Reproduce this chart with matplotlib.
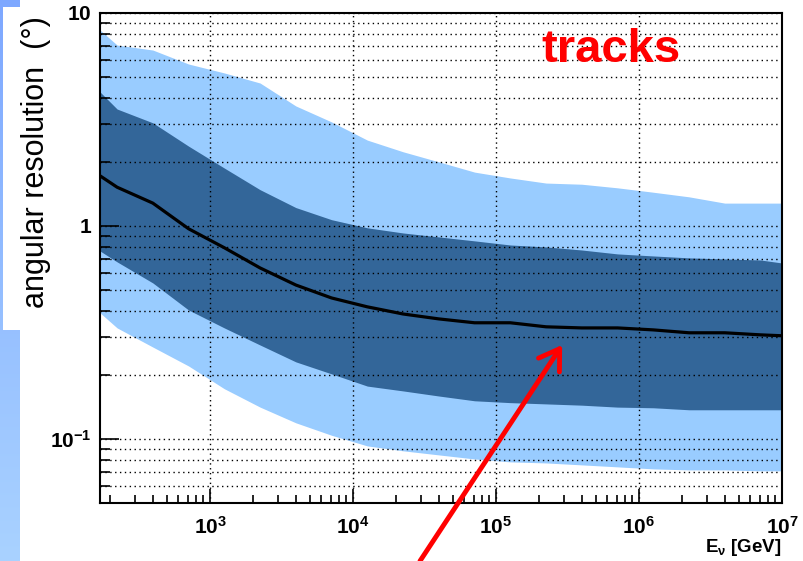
import numpy as np
import matplotlib
matplotlib.use('Agg')
import matplotlib.pyplot as plt
from matplotlib.patches import Rectangle
from matplotlib.ticker import LogLocator, NullFormatter

plt.rcParams['font.family'] = ['Liberation Sans', 'DejaVu Sans']
plt.rcParams['mathtext.fontset'] = 'custom'
plt.rcParams['mathtext.rm'] = 'Liberation Sans:bold'
plt.rcParams['mathtext.bf'] = 'Liberation Sans:bold'
plt.rcParams['mathtext.default'] = 'bf'

# datos (energia en GeV, resolucion en grados)
energia = [170, 224, 398, 708, 1259, 2239, 3981, 7079, 12589, 22387, 39811,
           70795, 125893, 223872, 398107, 707946, 1258925, 2238721, 3981072,
           7079458, 10000000]
mediana = [1.72, 1.52, 1.28, 0.97, 0.79, 0.635, 0.528, 0.459, 0.417, 0.386,
           0.366, 0.351, 0.351, 0.336, 0.332, 0.332, 0.325, 0.315, 0.315,
           0.308, 0.305]
banda68_sup = [4.26, 3.54, 3.05, 2.37, 1.87, 1.48, 1.22, 1.07, 0.98, 0.927,
               0.888, 0.851, 0.814, 0.797, 0.771, 0.739, 0.723, 0.708, 0.700,
               0.692, 0.670]
banda68_inf = [0.763, 0.678, 0.540, 0.403, 0.332, 0.276, 0.230, 0.202, 0.177,
               0.168, 0.159, 0.151, 0.148, 0.146, 0.144, 0.141, 0.140, 0.137,
               0.137, 0.137, 0.137]
banda95_sup = [8.32, 7.07, 6.70, 5.76, 5.23, 4.69, 3.66, 3.08, 2.53, 2.23,
               2.00, 1.79, 1.68, 1.59, 1.57, 1.51, 1.44, 1.37, 1.28, 1.28, 1.28]
banda95_inf = [0.391, 0.332, 0.270, 0.220, 0.172, 0.141, 0.119, 0.104, 0.0927,
               0.0879, 0.0841, 0.0805, 0.0780, 0.0771, 0.0755, 0.0739, 0.0723,
               0.0715, 0.0715, 0.0708, 0.0708]

etiquetas_x = [3, 4, 5, 6, 7]
valores_y = [0.1, 1, 10]
etiquetas_y = ['$10^{-1}$', '$1$', '$10$']

W, H = 804, 561
fig = plt.figure(figsize=(W / 100, H / 100), dpi=100)

# franja azul de la izquierda (fondo de la diapositiva)
ax_fondo = fig.add_axes([0, 0, 20 / W, 1])
grad = np.linspace(0, 1, 256).reshape(-1, 1)
cmap = matplotlib.colors.LinearSegmentedColormap.from_list('f', ['#7ea8ff', '#a9d2ff'])
ax_fondo.imshow(grad, aspect='auto', cmap=cmap, extent=[0, 1, 1, 0])
ax_fondo.set_axis_off()
fig.patches.append(Rectangle((3 / W, 1 - 330 / H), 54 / W, 323 / H,
                             transform=fig.transFigure, facecolor='white',
                             edgecolor='none', zorder=1))

ax = fig.add_axes([100 / W, 1 - 503 / H, 682 / W, 490 / H])
ax.set_zorder(3)
ax.fill_between(energia, banda95_inf, banda95_sup, color='#99ccff', lw=0, zorder=1)
ax.fill_between(energia, banda68_inf, banda68_sup, color='#336699', lw=0, zorder=1.5)
ax.plot(energia, mediana, color='black', lw=2.3, zorder=3)

ax.set_xscale('log')
ax.set_yscale('log')
ax.set_xlim(170, 1e7)
ax.set_ylim(0.05, 10)

ax.set_xticks([10 ** e for e in etiquetas_x])
ax.set_xticklabels(['$10^{%d}$' % e for e in etiquetas_x], fontsize=15)
ax.xaxis.set_minor_locator(LogLocator(base=10, subs=np.arange(2, 10), numticks=20))
ax.xaxis.set_minor_formatter(NullFormatter())
ax.set_yticks(valores_y)
ax.set_yticklabels(etiquetas_y, fontsize=15)
ax.yaxis.set_minor_locator(LogLocator(base=10, subs=np.arange(2, 10), numticks=20))
ax.yaxis.set_minor_formatter(NullFormatter())

ax.tick_params(which='both', direction='in', top=False, right=False, width=1.2)
ax.tick_params(axis='y', which='major', length=14, pad=6)
ax.tick_params(axis='y', which='minor', length=7)
ax.tick_params(axis='x', which='major', length=10, pad=9)
ax.tick_params(axis='x', which='minor', length=6)

ax.set_axisbelow(False)
ax.grid(True, which='major', axis='x', ls=(0, (1, 2.5)), color='black', lw=1)
ax.grid(True, which='both', axis='y', ls=(0, (1, 2.5)), color='black', lw=1)
for s in ax.spines.values():
    s.set_linewidth(1.5)
    s.set_zorder(4)

fig.text(782 / W, 1 - 547 / H, r'E$_{\nu}$ [GeV]', ha='right', va='center',
         fontsize=13.5, fontweight='bold')
fig.text(36 / W, 1 - 162 / H, 'angular resolution  (°)', rotation=90,
         ha='center', va='center', fontsize=22, zorder=2)
ax.text(0.75, 0.925, 'tracks', transform=ax.transAxes, ha='center', va='center',
        color='#ff0000', fontsize=34, fontweight='bold', zorder=5)

ax.annotate('', xy=(2.9e5, 0.276), xycoords='data',
            xytext=(420 / W, 0), textcoords='figure fraction',
            arrowprops=dict(arrowstyle='->, head_length=0.7, head_width=0.45',
                            mutation_scale=20, color='#ff0000', lw=3.5,
                            shrinkA=0, shrinkB=0),
            annotation_clip=False, zorder=6)

fig.savefig('out.png', dpi=100)
